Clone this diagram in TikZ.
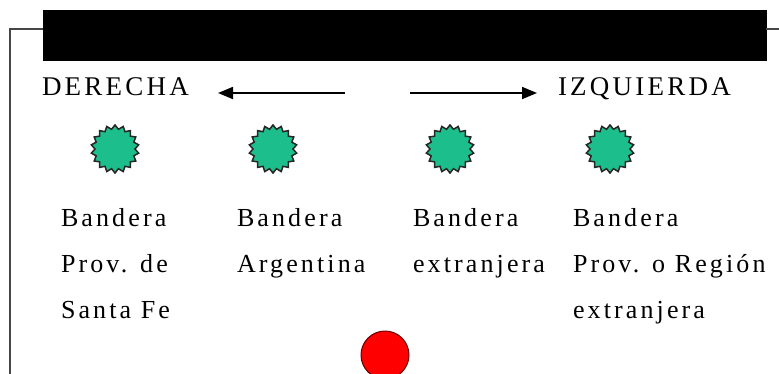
\documentclass[tikz,border=0pt]{standalone}
\usepackage{fontspec}
\setmainfont{Liberation Serif}[LetterSpace=12]
\usetikzlibrary{shapes.geometric, arrows.meta, positioning}
\definecolor{flaggreen}{RGB}{28,190,140}
\definecolor{framegray}{RGB}{70,70,70}
\tikzset{
  sides/.style={
	x=1pt, y=-1pt, % pixel like units, y grows downwards
	every node/.style={inner sep=0pt, outer sep=0pt},
  },
  titlebar/.style={draw=black, fill=black, minimum width=723pt, minimum height=50pt}, % black bar on top
  frame/.style={draw=framegray, line width=1.5pt}, % the open frame on the left
  side/.style={font=\fontsize{27}{30}\selectfont, anchor=base west}, % DERECHA and IZQUIERDA
  arr/.style={-{Triangle[length=15pt, width=12pt]}, line width=1.8pt}, % the two arrows
  flag/.style={star, star points=18, star point ratio=1.2, minimum size=48pt,
	draw=black!85, line width=1.5pt, fill=flaggreen}, % the flag lamps
  label/.style={font=\fontsize{26}{46}\selectfont, align=left, anchor=base west}, % texts below the lamps (anchored at last line)
  dot/.style={circle, minimum size=48pt, draw=black!60!red, line width=1pt, fill=red}, % red lamp
}
\begin{document}
\begin{tikzpicture}[sides]
	  \useasboundingbox (0,0) rectangle (779,373);
	  \node[titlebar, anchor=north west] (bar) at (43,10) {};
	  \draw[frame] (bar.west |- 0,29) -- (10,29) -- (10,380);
	  \draw[frame] (bar.east |- 0,29) -- (785,29);

	  \node[side] (der) at (42,95) {DERECHA};
	  \node[side] (izq) at (558,95) {IZQUIERDA};
	  \coordinate (ltail) at (345,93);
	  \coordinate (lhead) at (218,93);
	  \coordinate (rtail) at (410,93);
	  \coordinate (rhead) at (537,93);
	  \draw[arr] (ltail) -- (lhead);
	  \draw[arr] (rtail) -- (rhead);

	  \node[flag] (f1) at (115,149) {};
	  \node[flag] (f2) at (273,149) {};
	  \node[flag] (f3) at (450,149) {};
	  \node[flag] (f4) at (610,149) {};

	  \node[label] (t1) at (61,318) {Bandera\\Prov. de\\Santa Fe};
	  \node[label] (t2) at (237,272) {Bandera\\Argentina};
	  \node[label] (t3) at (413,272) {Bandera\\extranjera};
	  \node[label] (t4) at (573,318) {Bandera\\Prov. o Región\\extranjera};

	  \node[dot] (red) at (385,355) {};
	  \end{tikzpicture}
\end{document}
